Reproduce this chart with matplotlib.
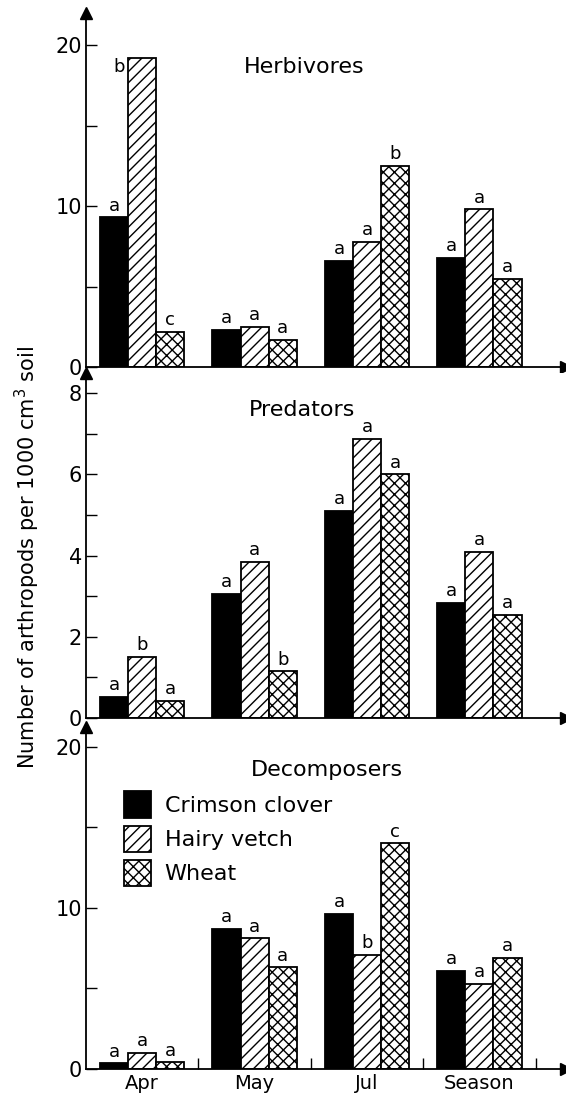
import matplotlib
matplotlib.use("Agg")
import matplotlib.pyplot as plt
from matplotlib.patches import Patch
import numpy as np

plt.rcParams['font.family'] = 'DejaVu Sans'
plt.rcParams['hatch.linewidth'] = 1.0

months = ['Apr', 'May', 'Jul', 'Season']
crops = ['Crimson clover', 'Hairy vetch', 'Wheat']

# Arthropod counts per 1000 cm3 soil: rows = crops, columns = months
herbivores = [[9.3, 2.3, 6.6, 6.8],
              [19.2, 2.5, 7.8, 9.8],
              [2.2, 1.7, 12.5, 5.5]]
herbivore_letters = [['a', 'a', 'a', 'a'],
                     ['b', 'a', 'a', 'a'],
                     ['c', 'a', 'b', 'a']]

predators = [[0.52, 3.05, 5.1, 2.83],
             [1.5, 3.85, 6.87, 4.1],
             [0.42, 1.15, 6.0, 2.54]]
predator_letters = [['a', 'a', 'a', 'a'],
                    ['b', 'a', 'a', 'a'],
                    ['a', 'b', 'a', 'a']]

decomposers = [[0.35, 8.7, 9.6, 6.1],
               [1.0, 8.1, 7.1, 5.3],
               [0.4, 6.3, 14.0, 6.9]]
decomposer_letters = [['a', 'a', 'a', 'a'],
                      ['a', 'a', 'b', 'a'],
                      ['a', 'a', 'c', 'a']]

fills = ['black', 'white', 'white']
hatches = [None, '///', 'xxx']

panels = [
    ('Herbivores', herbivores, herbivore_letters, 22.0, [0, 10, 20], [5, 15]),
    ('Predators', predators, predator_letters, 8.5, [0, 2, 4, 6, 8], [1, 3, 5, 7]),
    ('Decomposers', decomposers, decomposer_letters, 21.2, [0, 10, 20], [5, 15]),
]

# axes rectangles in figure fractions (left, bottom, width, height)
rects = [(0.152, 0.667, 0.848, 0.321),
         (0.152, 0.3485, 0.848, 0.313),
         (0.152, 0.030, 0.848, 0.310)]
title_pos = [(0.454, 0.847), (0.45, 0.893), (0.502, 0.874)]

fig = plt.figure(figsize=(5.66, 11.02), dpi=100)
width = 0.25
x = np.arange(len(months))

for k, (name, values, letters, ytop, major, minor) in enumerate(panels):
    ax = fig.add_axes(rects[k])
    for i in range(len(crops)):
        pos = x + (i - 1) * width
        ax.bar(pos, values[i], width=width, color=fills[i], hatch=hatches[i],
               edgecolor='black', linewidth=1.3, label=crops[i], zorder=2)
        for j in range(len(months)):
            if name == 'Herbivores' and i == 1 and j == 0:
                # tall bar near the top: letter sits beside it
                ax.text(pos[j] - width * 0.5 - 0.03, values[i][j], letters[i][j],
                        ha='right', va='top', fontsize=13)
                continue
            ax.annotate(letters[i][j], (pos[j], values[i][j]),
                        xytext=(0, 2), textcoords='offset points',
                        ha='center', va='bottom', fontsize=13)

    ax.set_xlim(-0.5, 3.77)
    ax.set_ylim(0, ytop)
    ax.set_yticks(major)
    ax.set_yticks(minor, minor=True)
    ax.tick_params(axis='y', which='both', direction='in', length=8, width=1.0,
                   labelsize=15, pad=3)
    for s in ['top', 'right']:
        ax.spines[s].set_visible(False)
    for s in ['left', 'bottom']:
        ax.spines[s].set_linewidth(1.3)

    if k < 2:
        ax.set_xticks([])
    else:
        # short dividers between groups, month names centred under them
        ax.set_xticks([0.5, 1.5, 2.5, 3.5])
        ax.set_xticklabels([])
        ax.set_xticks(x, minor=True)
        ax.set_xticklabels(months, minor=True, fontsize=14)
        ax.tick_params(axis='x', which='major', direction='in', length=8, width=1.0)
        ax.tick_params(axis='x', which='minor', length=0, pad=4)

    # arrow heads on both axes
    ax.plot(1, 0, '>', color='black', markersize=9, transform=ax.transAxes,
            clip_on=False)
    ax.plot(0, 1, '^', color='black', markersize=9, transform=ax.transAxes,
            clip_on=False)

    ax.text(title_pos[k][0], title_pos[k][1], name, transform=ax.transAxes,
            ha='center', va='center', fontsize=16)

    if name == 'Decomposers':
        handles = [Patch(facecolor=fills[i], hatch=hatches[i], edgecolor='black',
                         linewidth=1.3) for i in range(3)]
        ax.legend(handles, crops, loc='upper left', bbox_to_anchor=(0.055, 0.845),
                  frameon=False, fontsize=16, handlelength=1.25, handleheight=1.45,
                  handletextpad=0.6, labelspacing=0.35, borderpad=0)

fig.text(0.048, 0.494, 'Number of arthropods per 1000 cm$^3$ soil',
         rotation=90, ha='center', va='center', fontsize=15)

fig.savefig('out.png', dpi=100)
